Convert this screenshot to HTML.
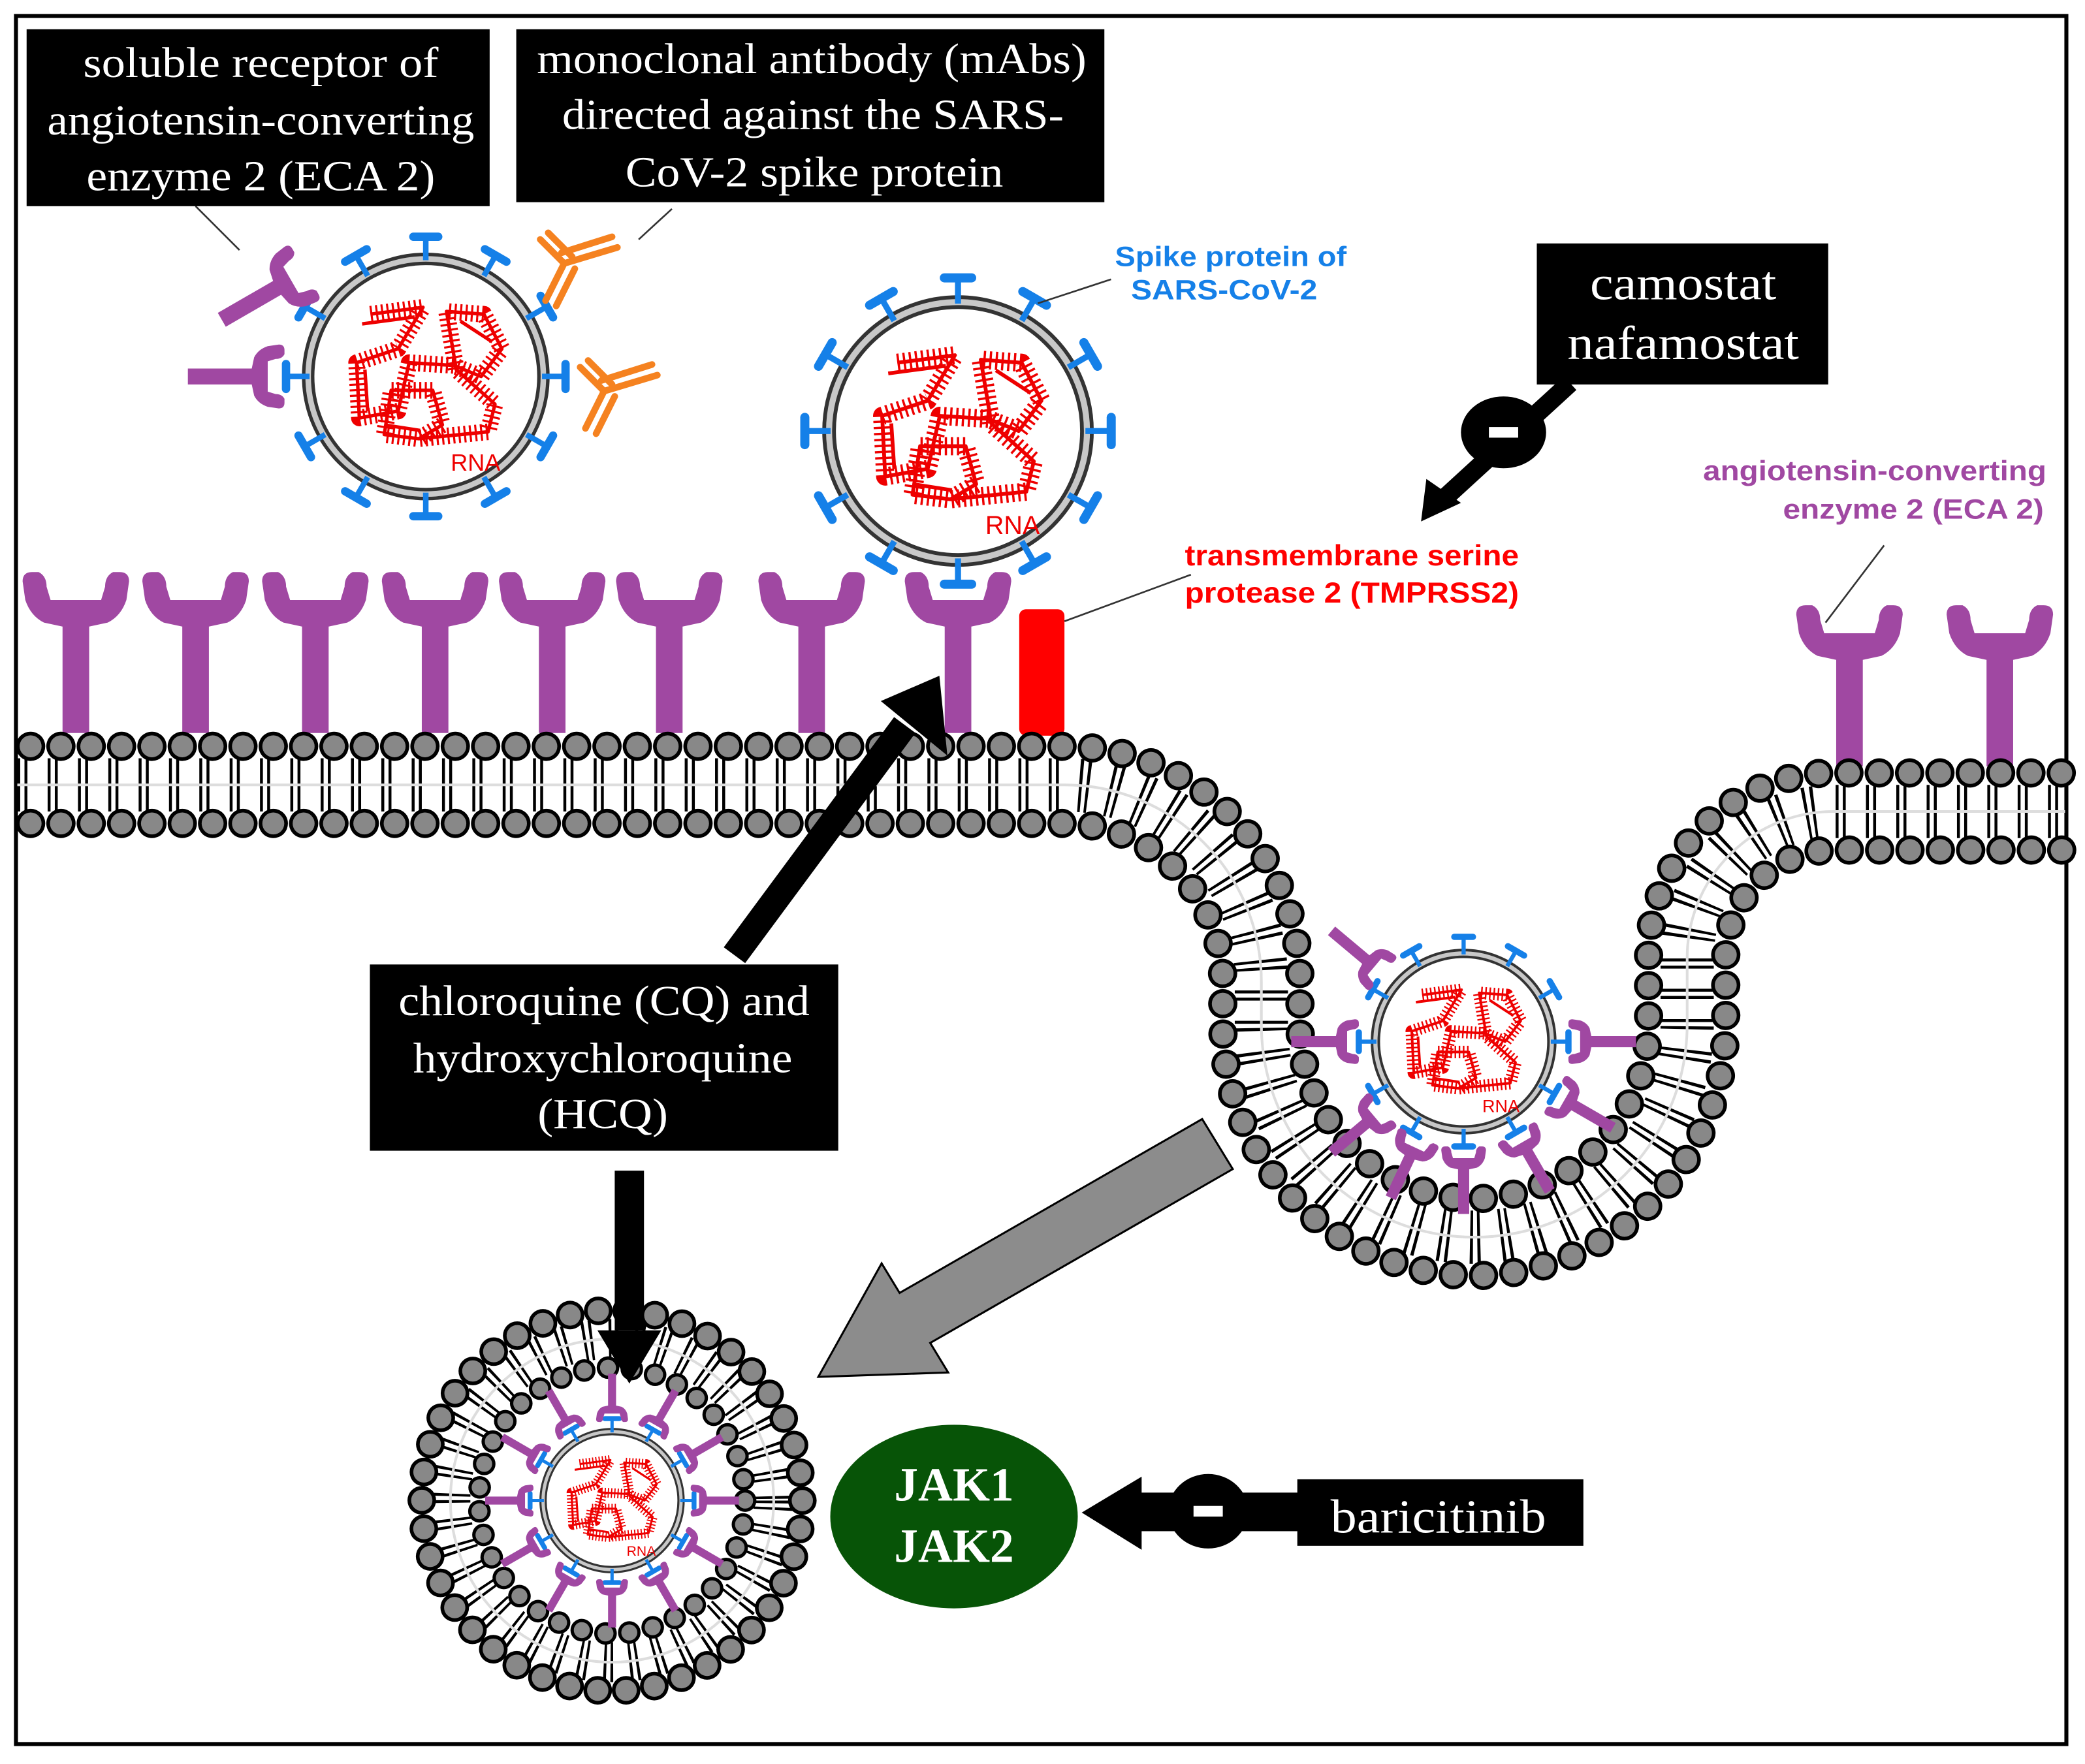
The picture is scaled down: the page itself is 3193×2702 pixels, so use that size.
<!DOCTYPE html>
<html><head><meta charset="utf-8"><style>
html,body{margin:0;padding:0;background:#fff}
svg{display:block}
.bx{font-family:"Liberation Serif",serif;fill:#fff;text-anchor:middle}
.sn{font-family:"Liberation Sans",sans-serif;font-weight:bold}
</style></head><body>
<svg width="3193" height="2702" viewBox="0 0 1567 1326" preserveAspectRatio="none" xmlns="http://www.w3.org/2000/svg">
<defs>
 <g id="sp"><line x1="0" y1="-84" x2="0" y2="-101" stroke="#1580e8" stroke-width="4"/><line x1="-9" y1="-101" x2="9" y2="-101" stroke="#1580e8" stroke-width="6" stroke-linecap="round"/></g>
 <g id="vir">
  <circle r="85" fill="#fff" stroke="#333" stroke-width="9"/>
  <circle r="85" fill="none" stroke="#c8c8c8" stroke-width="4"/>
  <use href="#sp"/><use href="#sp" transform="rotate(30)"/><use href="#sp" transform="rotate(60)"/><use href="#sp" transform="rotate(90)"/><use href="#sp" transform="rotate(120)"/><use href="#sp" transform="rotate(150)"/><use href="#sp" transform="rotate(180)"/><use href="#sp" transform="rotate(210)"/><use href="#sp" transform="rotate(240)"/><use href="#sp" transform="rotate(270)"/><use href="#sp" transform="rotate(300)"/><use href="#sp" transform="rotate(330)"/>
  <g fill="none" stroke="#e00" stroke-linejoin="round">
   <path d="M-40,-45 L-2,-50 L-20,-20 L-50,-10 L-48,30 L-20,25 L-12,-10 L20,-8 L40,0 L55,-20 L42,-45 L15,-47 L22,-5 L50,20 L45,40 L-5,45 L-30,42 L-25,10 L5,10 L12,35 L-5,45" stroke-width="12" stroke-dasharray="1.5 2.5"/>
   <path d="M-40,-45 L-2,-50 L-20,-20 L-50,-10 L-48,30 L-20,25 L-12,-10 L20,-8 L40,0 L55,-20 L42,-45 L15,-47 L22,-5 L50,20 L45,40 L-5,45 L-30,42 L-25,10 L5,10 L12,35 L-5,45" stroke-width="2.5"/>
   <path d="M-46,-38 L-8,-43 M-44,-5 L-42,25 M-30,35 L-4,39 M25,-40 L48,-25" stroke-width="2.5"/>
  </g>
 </g>
 <path id="rc" fill="#a048a2" d="M-40,4 Q-40,-3 -33,-3 L-28,-3 Q-22,0 -22,8 L-19,18 L19,18 L22,8 Q22,0 28,-3 L33,-3 Q40,-3 40,4 L38,18 Q34,30 24,35 L10,38 L10,118 L-10,118 L-10,38 L-24,35 Q-34,30 -38,18 Z"/>
</defs>
<rect x="0" y="0" width="1567" height="1326" fill="#fff"/>
<rect x="12" y="12" width="1541" height="1299" fill="none" stroke="#000" stroke-width="3"/>

<g>
 <use href="#rc" transform="translate(57,433)"/><use href="#rc" transform="translate(147,433)"/><use href="#rc" transform="translate(237,433)"/><use href="#rc" transform="translate(327,433)"/><use href="#rc" transform="translate(415,433)"/><use href="#rc" transform="translate(503,433)"/><use href="#rc" transform="translate(610,433)"/><use href="#rc" transform="translate(720,433)"/>
 <use href="#rc" transform="translate(1390,458)"/><use href="#rc" transform="translate(1503,458)"/>
</g>
<rect x="766" y="458" width="34" height="95" rx="5" fill="#f00"/>

<g fill="none">
 <path d="M13,590 H800 A148,148 0 0 1 948,738 V770 A160,160 0 0 0 1268,770 V720 A110,110 0 0 1 1378,610 H1552" stroke="#000" stroke-width="40" stroke-dasharray="2.2 3.2 2.2 15.2"/>
 <path d="M13,590 H800 A148,148 0 0 1 948,738 V770 A160,160 0 0 0 1268,770 V720 A110,110 0 0 1 1378,610 H1552" stroke="#ddd" stroke-width="2"/>
 <path d="M23,561 H800 A177,177 0 0 1 977,738 V770 A131,131 0 0 0 1239,770 V720 A139,139 0 0 1 1378,581 H1552" stroke="#000" stroke-width="22" stroke-linecap="round" stroke-dasharray="0 22.8"/>
 <path d="M23,561 H800 A177,177 0 0 1 977,738 V770 A131,131 0 0 0 1239,770 V720 A139,139 0 0 1 1378,581 H1552" stroke="#888" stroke-width="16.5" stroke-linecap="round" stroke-dasharray="0 22.8"/>
 <path d="M23,619 H800 A119,119 0 0 1 919,738 V770 A189,189 0 0 0 1297,770 V720 A81,81 0 0 1 1378,639 H1552" stroke="#000" stroke-width="22" stroke-linecap="round" stroke-dasharray="0 22.8"/>
 <path d="M23,619 H800 A119,119 0 0 1 919,738 V770 A189,189 0 0 0 1297,770 V720 A81,81 0 0 1 1378,639 H1552" stroke="#888" stroke-width="16.5" stroke-linecap="round" stroke-dasharray="0 22.8"/>
</g>

<g fill="none">
 <circle cx="460" cy="1128" r="121.5" stroke="#000" stroke-width="30" stroke-dasharray="2 3 2 12"/>
 <circle cx="460" cy="1128" r="121.5" stroke="#ddd" stroke-width="2"/>
 <circle cx="460" cy="1128" r="143" stroke="#000" stroke-width="21.5" stroke-linecap="round" stroke-dasharray="0 21.4"/>
 <circle cx="460" cy="1128" r="143" stroke="#888" stroke-width="16" stroke-linecap="round" stroke-dasharray="0 21.4"/>
 <circle cx="460" cy="1128" r="100" stroke="#000" stroke-width="17" stroke-linecap="round" stroke-dasharray="0 18"/>
 <circle cx="460" cy="1128" r="100" stroke="#888" stroke-width="12" stroke-linecap="round" stroke-dasharray="0 18"/>
</g>

<g transform="translate(320,283) scale(1.04)"><use href="#vir"/><text x="18" y="68" fill="#e00" font-family="Liberation Sans,sans-serif" font-size="17">RNA</text></g>
<g transform="translate(720,324) scale(1.14)"><use href="#vir"/><text x="18" y="68" fill="#e00" font-family="Liberation Sans,sans-serif" font-size="17">RNA</text></g>
<g transform="translate(1100,783) scale(0.78)"><use href="#vir"/><text x="18" y="68" fill="#e00" font-family="Liberation Sans,sans-serif" font-size="17">RNA</text></g>
<g transform="translate(460,1128) scale(0.61)"><use href="#vir"/><text x="18" y="68" fill="#e00" font-family="Liberation Sans,sans-serif" font-size="17">RNA</text></g>

<g transform="translate(1100,783)">
 <use href="#rc" transform="rotate(-230) translate(0,80) scale(.42)"/>
 <use href="#rc" transform="rotate(90) translate(0,80) scale(.42)"/>
 <use href="#rc" transform="rotate(50) translate(0,80) scale(.42)"/>
 <use href="#rc" transform="rotate(25) translate(0,80) scale(.42)"/>
 <use href="#rc" transform="rotate(0) translate(0,80) scale(.42)"/>
 <use href="#rc" transform="rotate(-30) translate(0,80) scale(.42)"/>
 <use href="#rc" transform="rotate(-60) translate(0,80) scale(.42)"/>
 <use href="#rc" transform="rotate(-90) translate(0,80) scale(.42)"/>
</g>
<g transform="translate(460,1128)">
 <use href="#rc" transform="rotate(0) translate(0,60) scale(.3)"/><use href="#rc" transform="rotate(30) translate(0,60) scale(.3)"/><use href="#rc" transform="rotate(60) translate(0,60) scale(.3)"/><use href="#rc" transform="rotate(90) translate(0,60) scale(.3)"/><use href="#rc" transform="rotate(120) translate(0,60) scale(.3)"/><use href="#rc" transform="rotate(150) translate(0,60) scale(.3)"/><use href="#rc" transform="rotate(180) translate(0,60) scale(.3)"/><use href="#rc" transform="rotate(210) translate(0,60) scale(.3)"/><use href="#rc" transform="rotate(240) translate(0,60) scale(.3)"/><use href="#rc" transform="rotate(270) translate(0,60) scale(.3)"/><use href="#rc" transform="rotate(300) translate(0,60) scale(.3)"/><use href="#rc" transform="rotate(330) translate(0,60) scale(.3)"/>
</g>

<use href="#rc" transform="translate(228,205) rotate(60) scale(.6)"/>
<use href="#rc" transform="translate(212,283) rotate(90) scale(.6)"/>

<g stroke="#f58220" stroke-width="5" stroke-linecap="round" fill="none">
 <path d="M410,226 L424,198 M418,230 L432,202 M424,198 L406,180 M430,193 L412,175 M424,198 L464,186 M422,190 L460,178"/>
 <path d="M440,322 L454,294 M448,326 L462,298 M454,294 L436,276 M460,289 L442,271 M454,294 L494,282 M452,286 L490,274"/>
</g>

<g stroke="#333" stroke-width="1.3">
 <line x1="147" y1="155" x2="180" y2="188"/>
 <line x1="480" y1="180" x2="505" y2="157"/>
 <line x1="780" y1="228" x2="835" y2="210"/>
 <line x1="800" y1="467" x2="895" y2="432"/>
 <line x1="1416" y1="410" x2="1372" y2="468"/>
</g>

<rect x="20" y="22" width="348" height="133" fill="#000"/>
<text class="bx" font-size="32" x="196" y="58" textLength="267" lengthAdjust="spacingAndGlyphs">soluble receptor of</text>
<text class="bx" font-size="32" x="196" y="101" textLength="321" lengthAdjust="spacingAndGlyphs">angiotensin-converting</text>
<text class="bx" font-size="32" x="196" y="143" textLength="262" lengthAdjust="spacingAndGlyphs">enzyme 2 (ECA 2)</text>
<rect x="388" y="22" width="442" height="130" fill="#000"/>
<text class="bx" font-size="32" x="610" y="55" textLength="413" lengthAdjust="spacingAndGlyphs">monoclonal antibody (mAbs)</text>
<text class="bx" font-size="32" x="611" y="97" textLength="377" lengthAdjust="spacingAndGlyphs">directed against the SARS-</text>
<text class="bx" font-size="32" x="612" y="140" textLength="284" lengthAdjust="spacingAndGlyphs">CoV-2 spike protein</text>
<rect x="1155" y="183" width="219" height="106" fill="#000"/>
<text class="bx" font-size="36" x="1265" y="225" textLength="140" lengthAdjust="spacingAndGlyphs">camostat</text>
<text class="bx" font-size="36" x="1265" y="270" textLength="174" lengthAdjust="spacingAndGlyphs">nafamostat</text>
<rect x="278" y="725" width="352" height="140" fill="#000"/>
<text class="bx" font-size="32" x="454" y="763" textLength="309" lengthAdjust="spacingAndGlyphs">chloroquine (CQ) and</text>
<text class="bx" font-size="32" x="453" y="806" textLength="285" lengthAdjust="spacingAndGlyphs">hydroxychloroquine</text>
<text class="bx" font-size="32" x="453" y="848" textLength="98" lengthAdjust="spacingAndGlyphs">(HCQ)</text>
<rect x="975" y="1112" width="215" height="50" fill="#000"/>
<text class="bx" font-size="36" x="1081" y="1152" textLength="162" lengthAdjust="spacingAndGlyphs">baricitinib</text>

<text class="sn" font-size="21" fill="#1580e8" text-anchor="middle" x="925" y="200" textLength="174" lengthAdjust="spacingAndGlyphs">Spike protein of</text>
<text class="sn" font-size="21" fill="#1580e8" text-anchor="middle" x="920" y="225" textLength="140" lengthAdjust="spacingAndGlyphs">SARS-CoV-2</text>
<text class="sn" font-size="22" fill="#f00" text-anchor="middle" x="1016" y="425" textLength="251" lengthAdjust="spacingAndGlyphs">transmembrane serine</text>
<text class="sn" font-size="22" fill="#f00" text-anchor="middle" x="1016" y="453" textLength="251" lengthAdjust="spacingAndGlyphs">protease 2 (TMPRSS2)</text>
<text class="sn" font-size="21" fill="#a048a2" text-anchor="end" x="1538" y="361" textLength="258" lengthAdjust="spacingAndGlyphs">angiotensin-converting</text>
<text class="sn" font-size="21" fill="#a048a2" text-anchor="end" x="1536" y="390" textLength="196" lengthAdjust="spacingAndGlyphs">enzyme 2 (ECA 2)</text>

<line x1="552" y1="718" x2="680" y2="545" stroke="#000" stroke-width="20"/>
<polygon points="706,508 712,568 662,527" fill="#000"/>
<line x1="1180" y1="288" x2="1085" y2="375" stroke="#000" stroke-width="14"/>
<polygon points="1068,392 1072,360 1098,378" fill="#000"/>
<ellipse cx="1130" cy="325" rx="32" ry="27" fill="#000"/>
<rect x="1119" y="321" width="22" height="8" fill="#fff"/>
<rect x="462" y="880" width="22" height="120" fill="#000"/>
<polygon points="449,1000 497,1000 473,1040" fill="#000"/>
<polygon points="903.5,841.2 676.1,971.9 662.6,949.7 615,1035 712.6,1031.7 699.1,1009.5 926.5,878.8" fill="#8c8c8c" stroke="#000" stroke-width="1.5"/>
<ellipse cx="717" cy="1140" rx="93" ry="69" fill="#075407"/>
<text class="bx" font-size="36" font-weight="bold" x="717" y="1128">JAK1</text>
<text class="bx" font-size="36" font-weight="bold" x="717" y="1174">JAK2</text>
<rect x="855" y="1122" width="122" height="29" fill="#000"/>
<polygon points="813,1137 858,1110 858,1165" fill="#000"/>
<ellipse cx="908" cy="1136" rx="30" ry="28" fill="#000"/>
<rect x="897" y="1132" width="22" height="8" fill="#fff"/>
</svg>
</body></html>
